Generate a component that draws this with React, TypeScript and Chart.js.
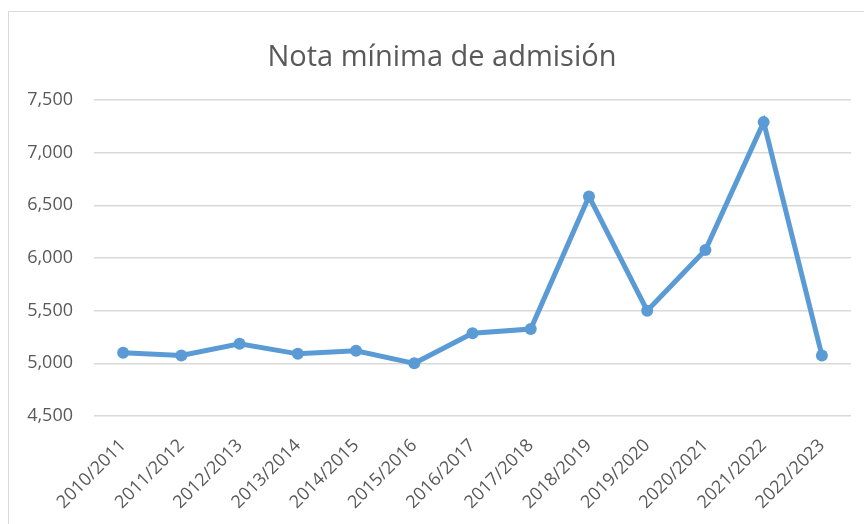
import React, { useEffect, useRef } from "react";
import { Chart, registerables } from "chart.js";

Chart.register(...registerables);

const categories = [
  "2010/2011", "2011/2012", "2012/2013", "2013/2014", "2014/2015", "2015/2016",
  "2016/2017", "2017/2018", "2018/2019", "2019/2020", "2020/2021", "2021/2022", "2022/2023",
];
const notaMinima = [5.1, 5.075, 5.185, 5.09, 5.12, 5.0, 5.285, 5.325, 6.585, 5.5, 6.075, 7.29, 5.075];
const yMin = 4.5;
const yMax = 7.5;
const yStep = 0.5;
const title = "Nota mínima de admisión";

const BLUE = "#5B9BD5";
const TEXT = "#595959";
const GRID = "#d9d9d9";
const FONT = "'Open Sans', sans-serif";

export default function App() {
  const ref = useRef<HTMLCanvasElement | null>(null);
  useEffect(() => {
    if (!ref.current) return;
    const chart = new Chart(ref.current, {
      type: "line",
      data: {
        labels: categories,
        datasets: [
          {
            data: notaMinima,
            borderColor: BLUE,
            backgroundColor: BLUE,
            borderWidth: 5,
            pointRadius: 6,
            pointBackgroundColor: BLUE,
            pointBorderWidth: 0,
            tension: 0,
          },
        ],
      },
      options: {
        responsive: false,
        animation: false,
        layout: { padding: { left: 11, right: 0, top: 0, bottom: 0 } },
        plugins: {
          legend: { display: false },
          tooltip: { enabled: false },
          title: {
            display: true,
            text: title,
            color: TEXT,
            font: { family: FONT, size: 29, weight: "normal" },
            padding: { top: 28, bottom: 25.2 },
          },
        },
        scales: {
          x: {
            offset: true,
            grid: { display: false, drawTicks: false },
            border: { display: false },
            ticks: {
              color: TEXT,
              font: { family: FONT, size: 18 },
              minRotation: 45,
              maxRotation: 45,
              padding: 19,
              autoSkip: false,
            },
            afterFit: (s: any) => {
              s.height = 108;
            },
          },
          y: {
            min: yMin,
            max: yMax,
            grid: { color: GRID, lineWidth: 1.5, drawTicks: false },
            border: { display: false },
            ticks: {
              stepSize: yStep,
              color: TEXT,
              font: { family: FONT, size: 18 },
              padding: 21,
              callback: (v: any) => Number(v).toFixed(3).replace(".", ","),
            },
            afterFit: (s: any) => {
              s.width = 74;
            },
          },
          yRight: {
            position: "right",
            min: yMin,
            max: yMax,
            grid: { display: false, drawTicks: false },
            border: { display: false },
            ticks: { display: false },
            afterFit: (s: any) => {
              s.width = 13;
            },
          },
        },
      },
    });
    return () => chart.destroy();
  }, []);
  return (
    <div
      style={{
        position: "absolute",
        left: 8,
        top: 11,
        width: 856,
        height: 513,
        borderTop: "1px solid #d9d9d9",
        borderLeft: "1px solid #d9d9d9",
        boxSizing: "border-box",
        background: "#fff",
      }}
    >
      <canvas ref={ref} width={855} height={512} style={{ display: "block", width: 855, height: 512 }} />
    </div>
  );
}
